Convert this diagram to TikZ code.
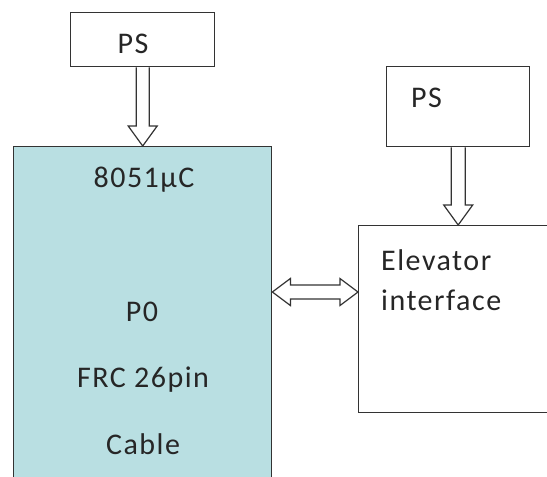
\documentclass[tikz,border=0pt]{standalone}
\usepackage{fontspec}
\setmainfont{Carlito}[LetterSpace=5]
\usetikzlibrary{calc}
\definecolor{mcufill}{HTML}{B9DFE2}
\definecolor{edge}{HTML}{333333}
\begin{document}
\begin{tikzpicture}[x=1pt,y=-1pt,
  box/.style={draw=edge, line width=1.4pt, rectangle, inner sep=0pt, anchor=north west},
  lbl/.style={font=\fontsize{30}{36}\selectfont, text=black!85, inner sep=0pt, anchor=base},
  blk/.style={draw=edge, line width=1.2pt, fill=white, line join=miter}]
\useasboundingbox (0,0) rectangle (547,477);
\clip (0,0) rectangle (547,477);
% boxes
\node[box, minimum width=144pt, minimum height=54pt] (ps1) at (70,12) {};
\node[box, minimum width=143pt, minimum height=80pt] (ps2) at (386,66) {};
\node[box, fill=mcufill, minimum width=258pt, minimum height=345pt] (mcu) at (13,146) {};
\node[box, minimum width=200pt, minimum height=187pt] (elev) at (358,225) {};
% labels
\node[lbl] (tps1) at (133,53) {PS};
\node[lbl, anchor=base west] (tps2) at (411,107) {PS};
\node[lbl] (tmcu) at (144,187) {8051µC};
\node[lbl] (tp0) at (142,321) {P0};
\node[lbl] (tfrc) at (143,387) {FRC 26pin};
\node[lbl] (tcab) at (143,454) {Cable};
\node[lbl, anchor=base west] (tel1) at (381,270) {Elevator};
\node[lbl, anchor=base west] (tel2) at (381,310) {interface};
% block arrows
\draw[blk] let \p1=(ps1.south), \p2=(mcu.north) in
  (\x1-6.5pt,\y1) -- (\x1-6.5pt,\y2+20pt) -- (\x1-14.5pt,\y2+20pt) -- (\x1,\y2)
  -- (\x1+14.5pt,\y2+20pt) -- (\x1+6.5pt,\y2+20pt) -- (\x1+6.5pt,\y1);
\draw[blk] let \p1=(ps2.south), \p2=(elev.north west) in
  (\x1-7pt,\y1) -- (\x1-7pt,\y2+20pt) -- (\x1-14.5pt,\y2+20pt) -- (\x1,\y2)
  -- (\x1+14.5pt,\y2+20pt) -- (\x1+7pt,\y2+20pt) -- (\x1+7pt,\y1);
\coordinate (dy) at (0,292);
\draw[blk] let \p1=(mcu.north east), \p2=(elev.north west), \p3=(dy) in
  (\x1,\y3) -- (\x1+18pt,\y3+13.5pt) -- (\x1+18pt,\y3+7pt) -- (\x2-18pt,\y3+7pt)
  -- (\x2-18pt,\y3+13.5pt) -- (\x2,\y3) -- (\x2-18pt,\y3-13.5pt) -- (\x2-18pt,\y3-7pt)
  -- (\x1+18pt,\y3-7pt) -- (\x1+18pt,\y3-13.5pt) -- cycle;
\end{tikzpicture}
\end{document}
